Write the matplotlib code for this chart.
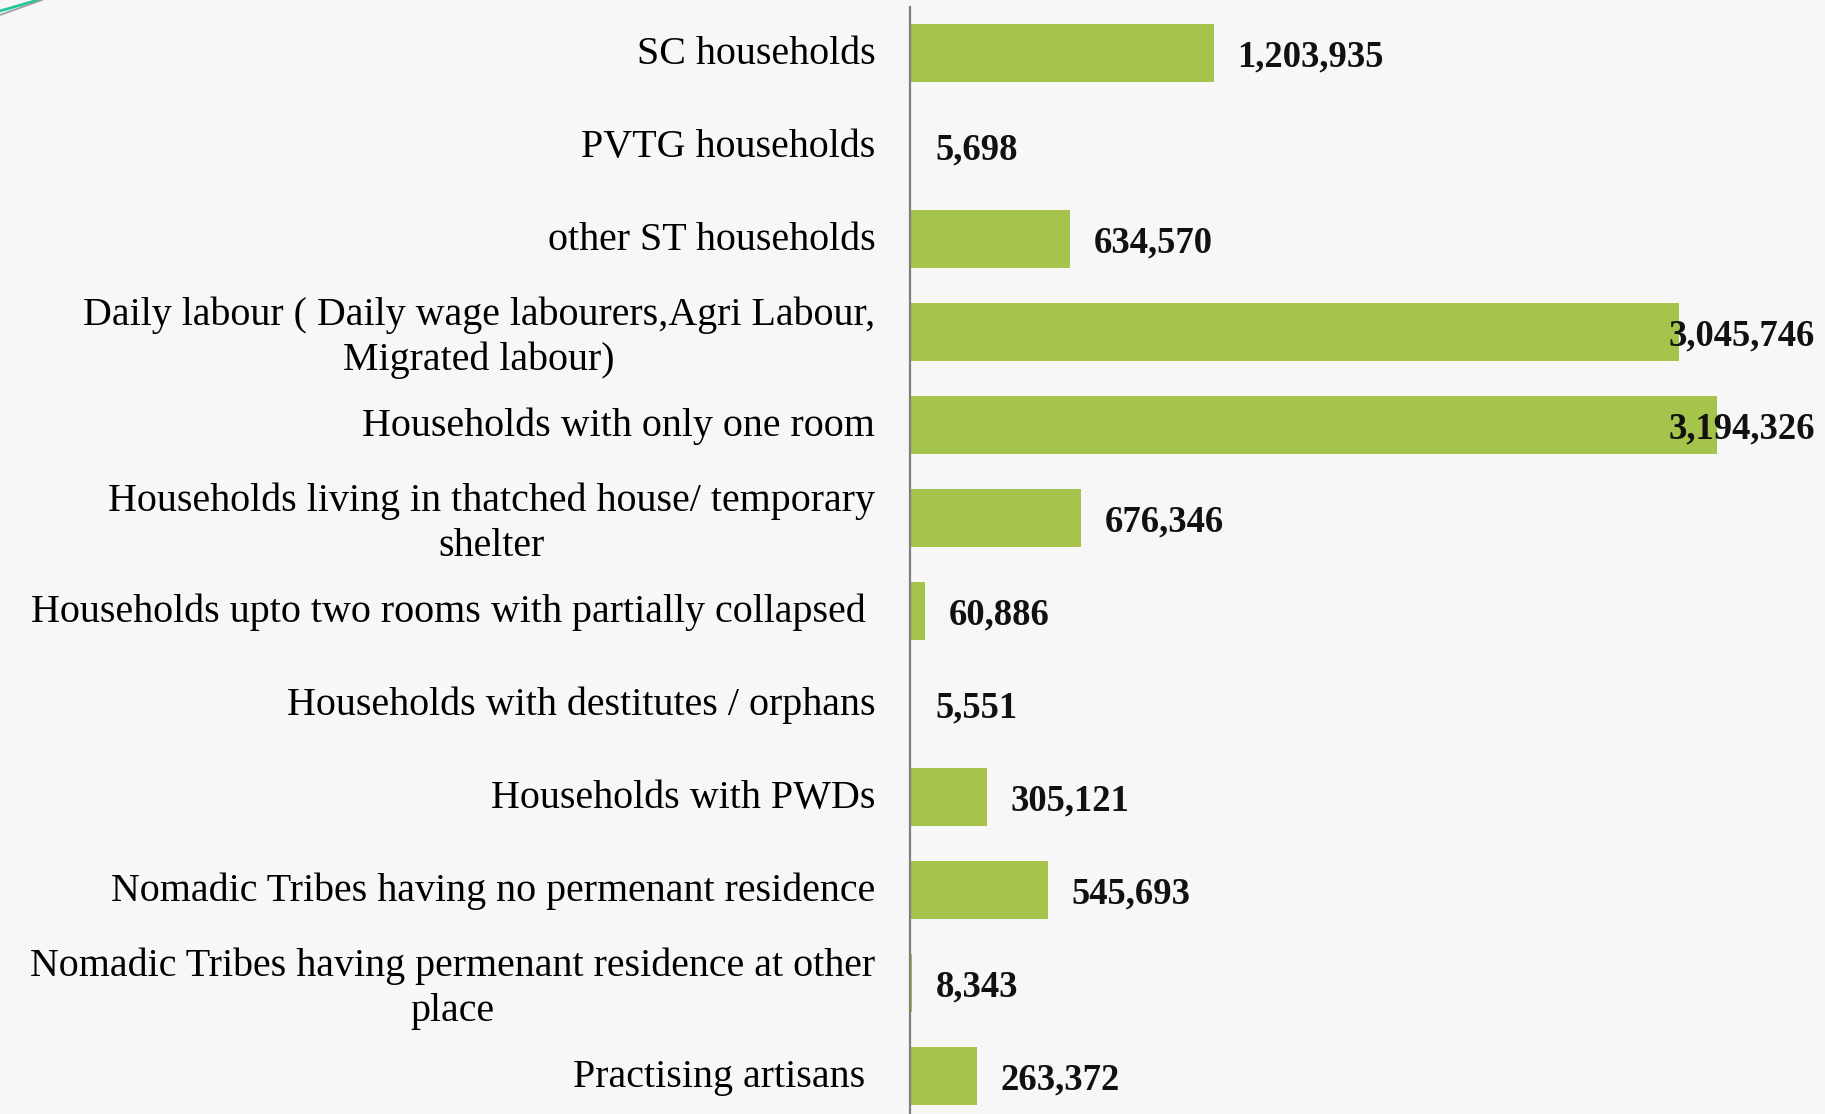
import matplotlib.pyplot as plt
from matplotlib.lines import Line2D
from matplotlib.transforms import ScaledTranslation

categories = [
    'SC households',
    'PVTG households',
    'other ST households',
    'Daily labour ( Daily wage labourers,Agri Labour,\nMigrated labour)',
    'Households with only one room',
    'Households living in thatched house/ temporary\nshelter',
    'Households upto two rooms with partially collapsed ',
    'Households with destitutes / orphans',
    'Households with PWDs',
    'Nomadic Tribes having no permenant residence',
    'Nomadic Tribes having permenant residence at other\nplace',
    'Practising artisans ',
]
values = [1203935, 5698, 634570, 3045746, 3194326, 676346,
          60886, 5551, 305121, 545693, 8343, 263372]

W, H, DPI = 1825, 1114, 100
bg = '#f7f7f7'
bar_color = '#a6c34c'

fig = plt.figure(figsize=(W / DPI, H / DPI), dpi=DPI, facecolor=bg)
pitch = 93
left, right = 910, 1815
top = 6.5
bottom = top + pitch * len(categories)
ax = fig.add_axes([left / W, 1 - bottom / H, (right - left) / W, (bottom - top) / H])
ax.set_facecolor(bg)

y = list(range(len(categories)))
ax.barh(y, values, height=0.62, color=bar_color)
ax.set_ylim(len(categories) - 0.5, -0.5)
xmax = (right - left) / 2.525e-4
ax.set_xlim(0, xmax)

ax.set_yticks(y)
ax.set_yticklabels(categories, family='Liberation Serif', fontsize=28.8,
                   multialignment='center', linespacing=1.27)
ax.tick_params(axis='y', length=0, pad=25)
lift = ScaledTranslation(0, 2 / 72, fig.dpi_scale_trans)
for lbl in ax.get_yticklabels():
    lbl.set_transform(lbl.get_transform() + lift)
ax.set_xticks([])
for s in ['top', 'right', 'bottom']:
    ax.spines[s].set_visible(False)
ax.spines['left'].set_color('#7f7f7f')
ax.spines['left'].set_linewidth(1.6)

# value labels sit just past the bar end, pulled back inside when they would overflow
labels = []
for yi, v in zip(y, values):
    t = ax.annotate(f'{v:,}', xy=(v, yi), xytext=(17, -3), textcoords='offset points',
                    ha='left', va='center', family='Liberation Serif',
                    fontweight='bold', fontsize=26.4, color='#111111')
    labels.append(t)

fig.canvas.draw()
renderer = fig.canvas.get_renderer()
ax_right = ax.get_window_extent(renderer).x1
for t in labels:
    if t.get_window_extent(renderer).x1 > ax_right:
        t.xy = (xmax, t.xy[1])
        t.set_position((0, -3))
        t.set_ha('right')

# corner accent lines
fig.add_artist(Line2D([0, 38 / W], [1 - 11 / H, 1], color='#22c79c', lw=2.0))
fig.add_artist(Line2D([0, 42 / W], [1 - 15 / H, 1], color='#9a9a9a', lw=1.2))

fig.savefig('out.png', dpi=DPI, facecolor=bg)
